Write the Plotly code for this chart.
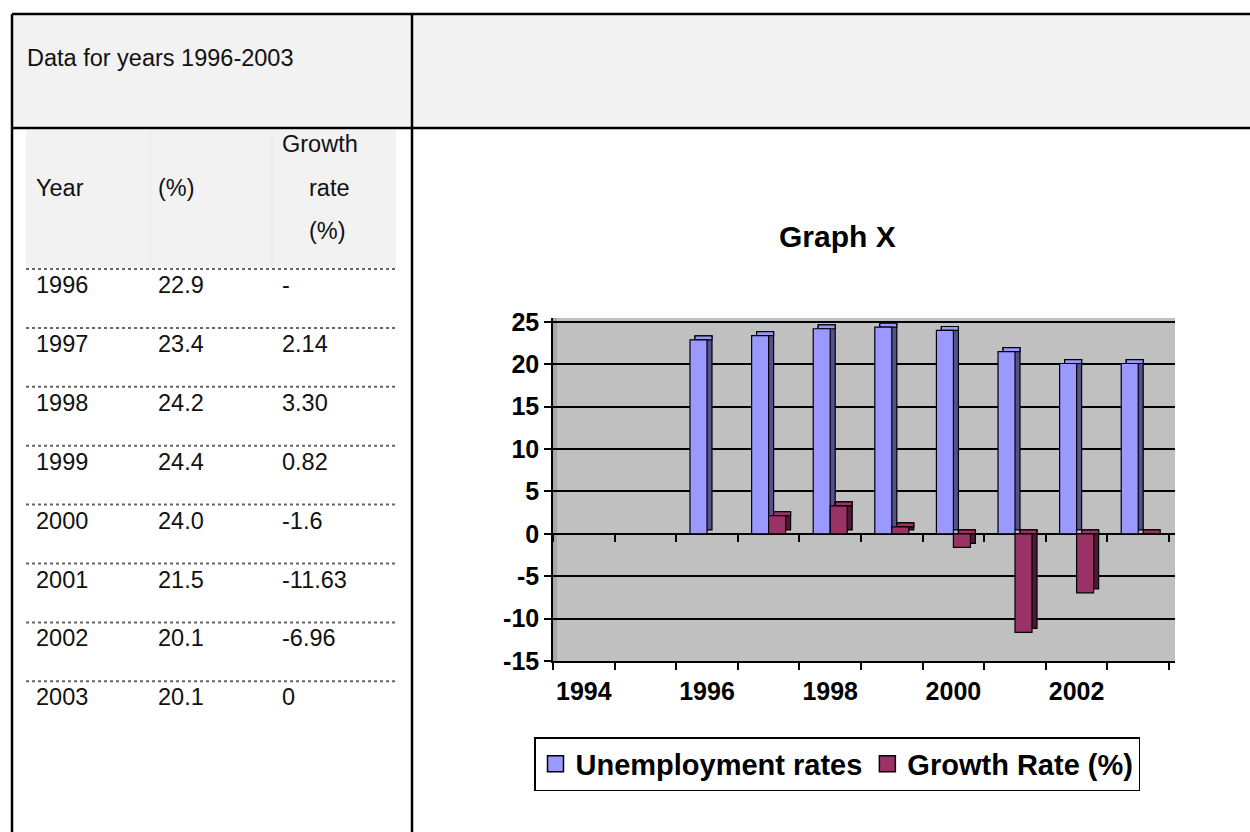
import plotly.graph_objects as go

# ---------------- data ----------------
chart_years = [1994, 1995, 1996, 1997, 1998, 1999, 2000, 2001, 2002, 2003]
unemployment = [None, None, 22.9, 23.4, 24.2, 24.4, 24.0, 21.5, 20.1, 20.1]
growth = [None, None, None, 2.14, 3.30, 0.82, -1.6, -11.63, -6.96, 0]

x_tick_vals = [1994, 1996, 1998, 2000, 2002]
x_tick_text = ["1994", "1996", "1998", "2000", "2002"]
y_tick_vals = [-15, -10, -5, 0, 5, 10, 15, 20, 25]
y_tick_text = ["-15", "-10", "-5", "0", "5", "10", "15", "20", "25"]

table_years = ["1996", "1997", "1998", "1999", "2000", "2001", "2002", "2003"]
table_unemp = ["22.9", "23.4", "24.2", "24.4", "24.0", "21.5", "20.1", "20.1"]
table_growth = ["-", "2.14", "3.30", "0.82", "-1.6", "-11.63", "-6.96", "0"]

# ---------------- helpers ----------------
W, H = 1250, 832
FONT = "Liberation Sans, Arial, sans-serif"


def px(x):
    return x / W


def py(y):
    return 1 - y / H


# 3D look parameters
bar_w = 0.276
depth_x = 0.081
depth_y = 0.47

BLUE, BLUE_SIDE = "#9999FF", "#52528F"
RED, RED_SIDE = "#993366", "#4D1A33"
EDGE = dict(color="black", width=1.2)

y_min, y_max = -15, 25.47
x_min, x_max = 1993.5, 2003.597
dom_x = [px(553), px(1175)]
dom_y = [py(661), py(318)]


def tops(vals):
    return [None if v is None else max(v, 0) for v in vals]


def depth(vals):
    return [None if v is None else depth_y for v in vals]


fig = go.Figure()

# side faces (back) and top faces
fig.add_trace(go.Bar(x=chart_years, y=unemployment, base=depth_y, width=bar_w,
                     offset=-bar_w + depth_x, marker=dict(color=BLUE_SIDE, line=EDGE),
                     showlegend=False, hoverinfo="skip"))
fig.add_trace(go.Bar(x=chart_years, y=depth(unemployment), base=tops(unemployment), width=bar_w,
                     offset=-bar_w + depth_x, marker=dict(color=BLUE, line=EDGE),
                     showlegend=False, hoverinfo="skip"))
fig.add_trace(go.Bar(x=chart_years, y=growth, base=depth_y, width=bar_w,
                     offset=depth_x, marker=dict(color=RED_SIDE, line=EDGE),
                     showlegend=False, hoverinfo="skip"))
fig.add_trace(go.Bar(x=chart_years, y=depth(growth), base=tops(growth), width=bar_w,
                     offset=depth_x, marker=dict(color=RED, line=EDGE),
                     showlegend=False, hoverinfo="skip"))
# front faces
fig.add_trace(go.Bar(x=chart_years, y=unemployment, width=bar_w, offset=-bar_w,
                     name="Unemployment rates", marker=dict(color=BLUE, line=EDGE),
                     showlegend=False))
fig.add_trace(go.Bar(x=chart_years, y=growth, width=bar_w, offset=0,
                     name="Growth Rate (%)", marker=dict(color=RED, line=EDGE),
                     showlegend=False))
# legend entries (square symbols)
fig.add_trace(go.Scatter(x=[None], y=[None], mode="markers", name="Unemployment rates",
                         marker=dict(symbol="square", size=16, color=BLUE,
                                     line=dict(color="black", width=1.5))))
fig.add_trace(go.Scatter(x=[None], y=[None], mode="markers", name="Growth Rate (%)",
                         marker=dict(symbol="square", size=16, color=RED,
                                     line=dict(color="black", width=1.5))))
# carrier for zero-line tick axis
fig.add_trace(go.Scatter(x=[None], y=[None], xaxis="x2", showlegend=False, hoverinfo="skip"))

zero_pos = dom_y[0] + (0 - y_min) / (y_max - y_min) * (dom_y[1] - dom_y[0])

fig.update_layout(
    width=W, height=H, autosize=False,
    margin=dict(l=0, r=0, t=0, b=0, pad=0),
    paper_bgcolor="white",
    plot_bgcolor="#C0C0C0",
    barmode="overlay",
    font=dict(family=FONT, color="black"),
    xaxis=dict(
        domain=dom_x, range=[x_min, x_max], type="linear", automargin=False,
        tickmode="array", tickvals=x_tick_vals, ticktext=x_tick_text,
        ticks="outside", ticklen=7, tickcolor="rgba(0,0,0,0)",
        tickfont=dict(size=25, family=FONT, weight="bold", color="black"),
        showline=True, linecolor="black", linewidth=1.5,
        showgrid=False, zeroline=False,
        minor=dict(tickmode="linear", tick0=1993.5, dtick=1, ticks="outside",
                   ticklen=7, tickcolor="black", tickwidth=1.5, showgrid=False),
    ),
    xaxis2=dict(
        overlaying="x", anchor="free", position=zero_pos, side="bottom", automargin=False,
        range=[x_min, x_max], type="linear", showticklabels=False,
        showline=False, showgrid=False, zeroline=False,
        tickmode="linear", tick0=1994.5, dtick=1, ticks="outside",
        ticklen=7, tickcolor="black", tickwidth=1.5,
    ),
    yaxis=dict(
        domain=dom_y, range=[y_min, y_max], automargin=False,
        tickmode="array", tickvals=y_tick_vals, ticktext=y_tick_text,
        ticks="outside", ticklen=7, tickcolor="black", tickwidth=1.5,
        tickfont=dict(size=25, family=FONT, weight="bold", color="black"),
        showline=True, linecolor="black", linewidth=1.5,
        showgrid=True, gridcolor="black", gridwidth=1.6,
        zeroline=True, zerolinecolor="black", zerolinewidth=2,
    ),
    legend=dict(
        orientation="h", x=px(534), y=py(737), xanchor="left", yanchor="top",
        bordercolor="black", borderwidth=1.5, bgcolor="white",
        font=dict(size=29, family=FONT, weight="bold", color="black"),
        traceorder="normal", itemsizing="trace",
    ),
)

shapes = []
# header row background
shapes.append(dict(type="rect", xref="paper", yref="paper", x0=px(12), x1=px(1250),
                   y0=py(128), y1=py(14), fillcolor="#F2F2F2", line=dict(width=0), layer="below"))
# inner table header background
shapes.append(dict(type="rect", xref="paper", yref="paper", x0=px(26), x1=px(396),
                   y0=py(268), y1=py(130), fillcolor="#F2F2F2", line=dict(width=0), layer="below"))
for sx in [150, 272]:
    shapes.append(dict(type="line", xref="paper", yref="paper", x0=px(sx), x1=px(sx),
                       y0=py(268), y1=py(130), line=dict(color="#E6E6E6", width=1), layer="below"))
# 3D side wall strip of chart
shapes.append(dict(type="rect", xref="paper", yref="paper", x0=px(553), x1=px(557),
                   y0=py(661), y1=py(318), fillcolor="#A8A8A8", line=dict(width=0), layer="below"))
# dotted row separators
row_top = 269
row_h = 58.9
for i in range(len(table_years)):
    yy = row_top + i * row_h
    shapes.append(dict(type="line", xref="paper", yref="paper", x0=px(26), x1=px(397),
                       y0=py(yy), y1=py(yy), line=dict(color="#666666", width=2, dash="dot")))
# outer borders
bl = dict(color="black", width=2.5)
shapes += [
    dict(type="line", xref="paper", yref="paper", x0=px(12), x1=px(1250), y0=py(14), y1=py(14), line=bl),
    dict(type="line", xref="paper", yref="paper", x0=px(12), x1=px(1250), y0=py(128), y1=py(128), line=bl),
    dict(type="line", xref="paper", yref="paper", x0=px(12), x1=px(12), y0=py(14), y1=py(832), line=bl),
    dict(type="line", xref="paper", yref="paper", x0=px(412), x1=px(412), y0=py(14), y1=py(832), line=bl),
]

tf = dict(family=FONT, size=23.5, color="#111111")
annotations = []


def txt(t, x, y, font=tf, anchor="left"):
    annotations.append(dict(text=t, x=px(x), y=py(y), xref="paper", yref="paper",
                            xanchor=anchor, yanchor="middle", showarrow=False, font=font))


txt("Data for years 1996-2003", 25, 58)
txt("Year", 34, 188)
txt("(%)", 156, 188)
txt("Growth", 280, 144)
txt("rate", 307, 188)
txt("(%)", 307, 231)
for i, (yr, u, g) in enumerate(zip(table_years, table_unemp, table_growth)):
    yy = row_top + i * row_h + 16
    txt(yr, 34, yy)
    txt(u, 156, yy)
    txt(g, 280, yy)

txt("Graph X", 837, 237, font=dict(family=FONT, size=30, weight="bold", color="black"), anchor="center")

fig.update_layout(shapes=shapes, annotations=annotations)
fig.write_html("out.html", config={"displayModeBar": False},
               post_script="document.body.style.margin='0px';document.body.style.overflow='hidden';")
